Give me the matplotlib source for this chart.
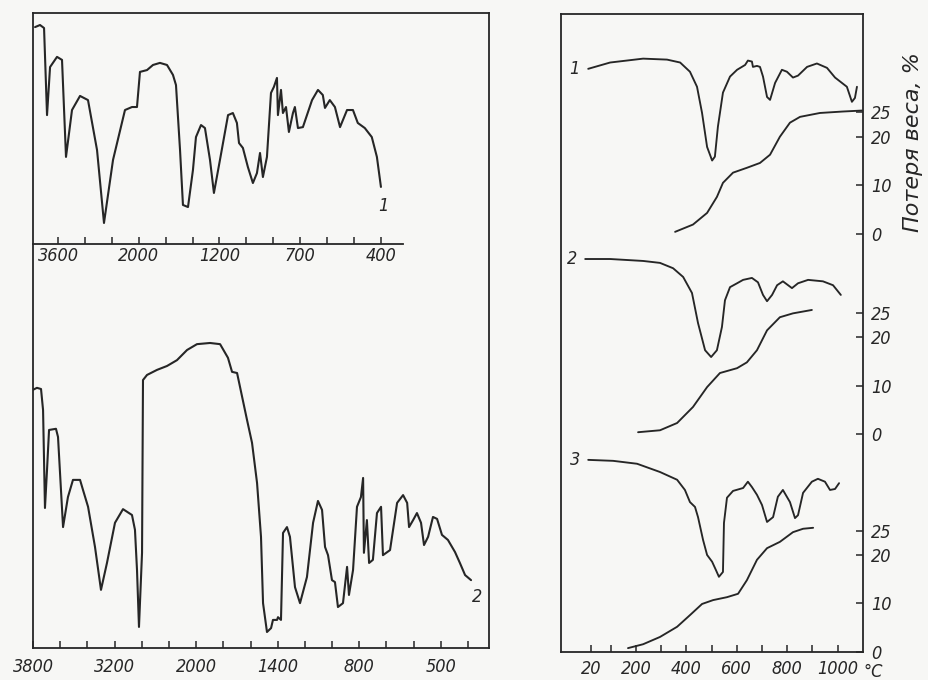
import numpy as np
import matplotlib
matplotlib.use("Agg")
import matplotlib.pyplot as plt

# IR spectrum 1 (upper left): wavenumber, cm-1 / transmission, %
ir1_wn = [4055, 3957, 3877, 3818, 3758, 3620, 3521, 3442, 3323, 3164,
          3006, 2827, 2689, 2510, 2273, 2134, 2035, 1988, 1918, 1859,
          1790, 1720, 1661, 1631, 1591, 1562, 1512, 1463, 1433, 1383,
          1344, 1294, 1255, 1197, 1147, 1117, 1092, 1079, 1055, 1024,
          993, 968, 949, 931, 906, 881, 863, 844, 838, 819,
          807, 788, 770, 745, 733, 714, 690, 656, 634, 616,
          608, 590, 571, 552, 526, 504, 486, 460, 434, 415,
          400]
ir1_tr = [93.9, 94.8, 93.5, 55.8, 76.6, 81.0, 79.7, 37.7, 58.0, 64.1,
          62.3, 40.7, 9.1, 36.4, 58.0, 59.3, 59.3, 74.5, 75.3, 77.5,
          78.4, 77.5, 73.2, 68.8, 40.7, 16.9, 16.0, 32.0, 46.3, 51.5,
          50.2, 36.4, 22.1, 36.4, 55.8, 56.7, 52.4, 43.7, 41.6, 33.3,
          26.4, 30.7, 39.4, 29.0, 37.7, 65.4, 68.0, 71.9, 55.8, 66.7,
          56.7, 59.3, 48.5, 56.7, 59.3, 50.2, 50.6, 62.3, 66.7, 64.5,
          58.9, 62.3, 59.3, 50.6, 58.0, 58.0, 52.4, 50.2, 46.3, 37.7,
          24.7]

# IR spectrum 2 (lower left)
ir2_wn = [3800, 3771, 3741, 3726, 3712, 3697, 3682, 3631, 3616, 3579,
          3543, 3506, 3454, 3432, 3395, 3344, 3300, 3256, 3194, 3076,
          2944, 2900, 2870, 2841, 2796, 2782, 2723, 2576, 2429, 2282,
          2134, 1994, 1898, 1824, 1766, 1736, 1699, 1626, 1589, 1552,
          1523, 1508, 1479, 1449, 1435, 1405, 1398, 1376, 1361, 1332,
          1310, 1273, 1236, 1185, 1140, 1104, 1074, 1052, 1030, 1001,
          979, 957, 920, 890, 876, 846, 817, 794, 786, 783,
          772, 764, 750, 735, 720, 713, 687, 661, 639, 624,
          617, 602, 588, 573, 562, 547, 529, 514, 496, 474,
          448, 430, 411, 389]
ir2_tr = [66.2, 66.7, 66.4, 61.0, 35.9, 45.6, 55.9, 56.2, 54.1, 31.0,
          38.7, 43.1, 43.1, 40.5, 36.2, 25.9, 14.9, 21.8, 32.1, 35.6,
          34.1, 30.3, 20.0, 5.4, 24.4, 68.7, 70.0, 71.3, 72.3, 73.8,
          76.4, 77.9, 78.2, 77.9, 74.4, 70.8, 70.5, 58.5, 52.6, 42.3,
          28.5, 11.5, 4.1, 5.1, 7.2, 7.2, 7.9, 7.2, 29.5, 31.0,
          28.5, 15.6, 11.5, 18.2, 32.1, 37.7, 35.4, 25.9, 23.8, 17.4,
          16.9, 10.5, 11.5, 20.8, 13.6, 20.0, 36.2, 38.7, 43.6, 24.4,
          32.8, 21.8, 22.6, 34.6, 36.2, 23.8, 25.1, 37.2, 39.2, 37.2,
          31.0, 32.8, 34.6, 32.1, 26.4, 28.5, 33.6, 33.1, 29.0, 27.7,
          24.6, 21.8, 18.7, 17.4]

ir1_labels = [3600, 2000, 1200, 700, 400]
ir2_labels = [3800, 3200, 2000, 1400, 800, 500]

# thermograms (right): DTA curves (relative units) and weight loss, %
dta1_t = [10, 97, 228, 323, 375, 414, 442, 462, 482, 502, 513, 525, 545, 573,
          601, 633, 644, 660, 664, 680, 692, 704, 720, 732, 752, 779, 799, 823,
          843, 879, 918, 958, 990, 1037, 1057, 1069, 1077]
dta1_y = [34.0, 35.3, 36.1, 35.9, 35.3, 33.4, 30.3, 24.9, 17.9, 15.1, 15.9, 22.1,
          29.1, 32.4, 33.8, 34.8, 35.7, 35.5, 34.4, 34.6, 34.4, 32.4, 28.2, 27.6,
          31.1, 33.8, 33.4, 32.2, 32.6, 34.4, 35.1, 34.2, 32.2, 30.3, 27.2, 28.0,
          30.3]
tg1_t = [355, 426, 482, 521, 545, 585, 640, 692, 732, 771, 811, 851, 930, 1021, 1097]
tg1_loss = [0.4, 1.9, 4.3, 7.6, 10.5, 12.6, 13.6, 14.6, 16.3, 20.0, 22.9, 24.1,
            24.9, 25.2, 25.4]

dta2_t = [-2, 97, 228, 295, 347, 387, 422, 446, 474, 498, 521, 541, 553, 573,
          601, 625, 660, 684, 704, 720, 740, 760, 783, 819, 843, 883, 942, 982,
          1013]
dta2_y = [36.1, 36.1, 35.7, 35.3, 34.2, 32.4, 29.1, 22.9, 17.3, 15.9, 17.3, 22.1,
          27.6, 30.3, 31.1, 31.8, 32.2, 31.3, 28.7, 27.4, 28.7, 30.7, 31.5, 30.1,
          31.1, 31.8, 31.5, 30.7, 28.7]
tg2_t = [208, 295, 363, 426, 482, 533, 601, 640, 680, 720, 771, 823, 898]
tg2_loss = [0.4, 0.8, 2.3, 5.6, 9.7, 12.6, 13.6, 14.8, 17.3, 21.4, 24.1, 24.9, 25.6]

dta3_t = [10, 109, 204, 295, 363, 394, 414, 434, 446, 466, 482, 502, 517, 529,
          545, 549, 561, 585, 625, 644, 660, 680, 700, 720, 744, 763, 783, 811,
          831, 843, 863, 898, 922, 950, 970, 990, 1006]
dta3_y = [39.6, 39.4, 38.8, 37.1, 35.5, 33.4, 30.9, 29.9, 27.8, 23.1, 20.0, 18.6,
          16.9, 15.5, 16.5, 26.6, 31.8, 33.2, 33.8, 35.1, 34.0, 32.4, 30.3, 26.8,
          27.8, 32.0, 33.4, 30.9, 27.6, 28.2, 32.8, 35.1, 35.7, 35.1, 33.4, 33.6,
          34.8]
tg3_t = [168, 228, 295, 363, 414, 462, 506, 561, 605, 640, 680, 720, 771, 823,
         863, 903]
tg3_loss = [0.8, 1.6, 3.1, 5.2, 7.6, 9.9, 10.7, 11.3, 12.0, 14.8, 19.0, 21.4,
            22.7, 24.7, 25.4, 25.6]

temp_labels = [20, 200, 400, 600, 800, 1000]
temp_minor = [100, 300, 500, 700, 900]
loss_ticks = [0, 10, 20, 25]
curve_names = ["1", "2", "3"]

INK = "#262626"
PAPER = "#f7f7f5"
LW = 1.5
LINE = dict(color=INK, solid_joinstyle="round", solid_capstyle="round")
TICK_FONT = dict(family="DejaVu Sans", style="italic", stretch="condensed",
                 size=13, color=INK)


def wavenumber_scale(ax, anchor_wn, anchor_pos):
    # chart paper of the spectrometer: evenly spaced ticks, but a different
    # number of cm-1 per tick in each range. forward is kept increasing in
    # cm-1 and the axis is then shown inverted (high wavenumbers on the left)
    wn = np.asarray(anchor_wn, float)[::-1]
    pos = -np.asarray(anchor_pos, float)[::-1]

    def forward(x):
        return np.interp(x, wn, pos)

    def inverse(p):
        return np.interp(p, pos, wn)

    ax.set_xscale("function", functions=(forward, inverse))

    def at_tick(p):
        return float(np.interp(-p, pos, wn))

    return at_tick


def style_ticks(ax, pad):
    ax.tick_params(axis="both", which="both", direction="in", length=5,
                   width=1.1, color=INK, pad=pad)


fig = plt.figure(figsize=(9.29, 6.8), dpi=100, facecolor=PAPER)
W, H = 929.0, 680.0

# lower spectrum: its frame is the whole left box
ax2 = fig.add_axes([33 / W, 1 - 648 / H, 456 / W, 635 / H], facecolor=PAPER)
ax2.set_zorder(0)
tick2 = wavenumber_scale(ax2, [3800, 3200, 2000, 1400, 800, 500, 300],
                         [0, 3, 6, 9, 12, 15, 17])
ax2.plot(ir2_wn, ir2_tr, lw=LW, **LINE)
ax2.set_xlim(3800, tick2(16.77))
ax2.set_ylim(0, 162.8)
ax2.set_xticks(ir2_labels, labels=[str(v) for v in ir2_labels], **TICK_FONT)
ax2.set_xticks([tick2(p) for p in range(1, 17) if p % 3 != 0], minor=True)
ax2.set_yticks([])
style_ticks(ax2, pad=7)
for s in ax2.spines.values():
    s.set_linewidth(1.3)
    s.set_color(INK)
ax2.annotate("2", xy=(ir2_wn[-1], ir2_tr[-1]), xytext=(4, -12),
             textcoords="offset points", ha="center", va="center", **TICK_FONT)

# upper spectrum sits in the top of the same box
ax1 = fig.add_axes([33 / W, 1 - 244 / H, 370 / W, 231 / H])
ax1.set_zorder(1)
ax1.patch.set_visible(False)
tick1 = wavenumber_scale(ax1, [4100, 3600, 2000, 1200, 700, 400, 300],
                         [-0.9375, 0, 3, 6, 9, 12, 13])
ax1.plot(ir1_wn, ir1_tr, lw=LW, **LINE)
ax1.set_xlim(tick1(-0.93), tick1(12.82))
ax1.set_ylim(0, 100)
ax1.set_xticks(ir1_labels, labels=[str(v) for v in ir1_labels], **TICK_FONT)
ax1.set_xticks([tick1(p) for p in range(1, 13) if p % 3 != 0], minor=True)
ax1.set_yticks([])
style_ticks(ax1, pad=2)
for name in ["top", "left", "right"]:
    ax1.spines[name].set_visible(False)
ax1.spines["bottom"].set_linewidth(1.3)
ax1.spines["bottom"].set_color(INK)
ax1.annotate("1", xy=(ir1_wn[-1], ir1_tr[-1]), xytext=(2, -14),
             textcoords="offset points", ha="center", va="center", **TICK_FONT)

# thermograms, three stacked pairs sharing one temperature axis
ax3 = fig.add_axes([561 / W, 1 - 652 / H, 302 / W, 638 / H], facecolor=PAPER)
group_base = [86.2, 44.9, 0.0]
dta_t = [dta1_t, dta2_t, dta3_t]
dta_y = [dta1_y, dta2_y, dta3_y]
tg_t = [tg1_t, tg2_t, tg3_t]
tg_loss = [tg1_loss, tg2_loss, tg3_loss]

ytick_pos, ytick_lab = [], []
for k in range(3):
    base = group_base[k]
    ax3.plot(dta_t[k], np.asarray(dta_y[k]) + base, lw=LW * 0.9, **LINE)
    ax3.plot(tg_t[k], np.asarray(tg_loss[k]) + base, lw=LW * 0.9, **LINE)
    ax3.annotate(curve_names[k], xy=(dta_t[k][0], dta_y[k][0] + base),
                 xytext=(-6, 0), textcoords="offset points",
                 ha="right", va="center", **TICK_FONT)
    for v in loss_ticks:
        ytick_pos.append(base + v)
        ytick_lab.append(str(v))

ax3.set_xlim(-98, 1101)
ax3.set_ylim(0, 131.5)
ax3.set_xticks(temp_labels, labels=[str(v) for v in temp_labels], **TICK_FONT)
ax3.set_xticks(temp_minor, minor=True)
ax3.yaxis.tick_right()
ax3.set_yticks(ytick_pos, labels=ytick_lab, **TICK_FONT)
style_ticks(ax3, pad=6)
ax3.tick_params(axis="y", which="both", left=False, right=True)
for s in ax3.spines.values():
    s.set_linewidth(1.3)
    s.set_color(INK)
ax3.annotate("°C", xy=(1, 0), xycoords="axes fraction", xytext=(7, -14.5),
             textcoords="offset points", ha="center", va="center", **TICK_FONT)

fig.text(913 / W, 1 - 142 / H, "Потеря веса, %", rotation=90,
         ha="center", va="center", family="DejaVu Sans", style="italic",
         size=16, color=INK)

fig.savefig("out.png", dpi=100, facecolor=PAPER)
